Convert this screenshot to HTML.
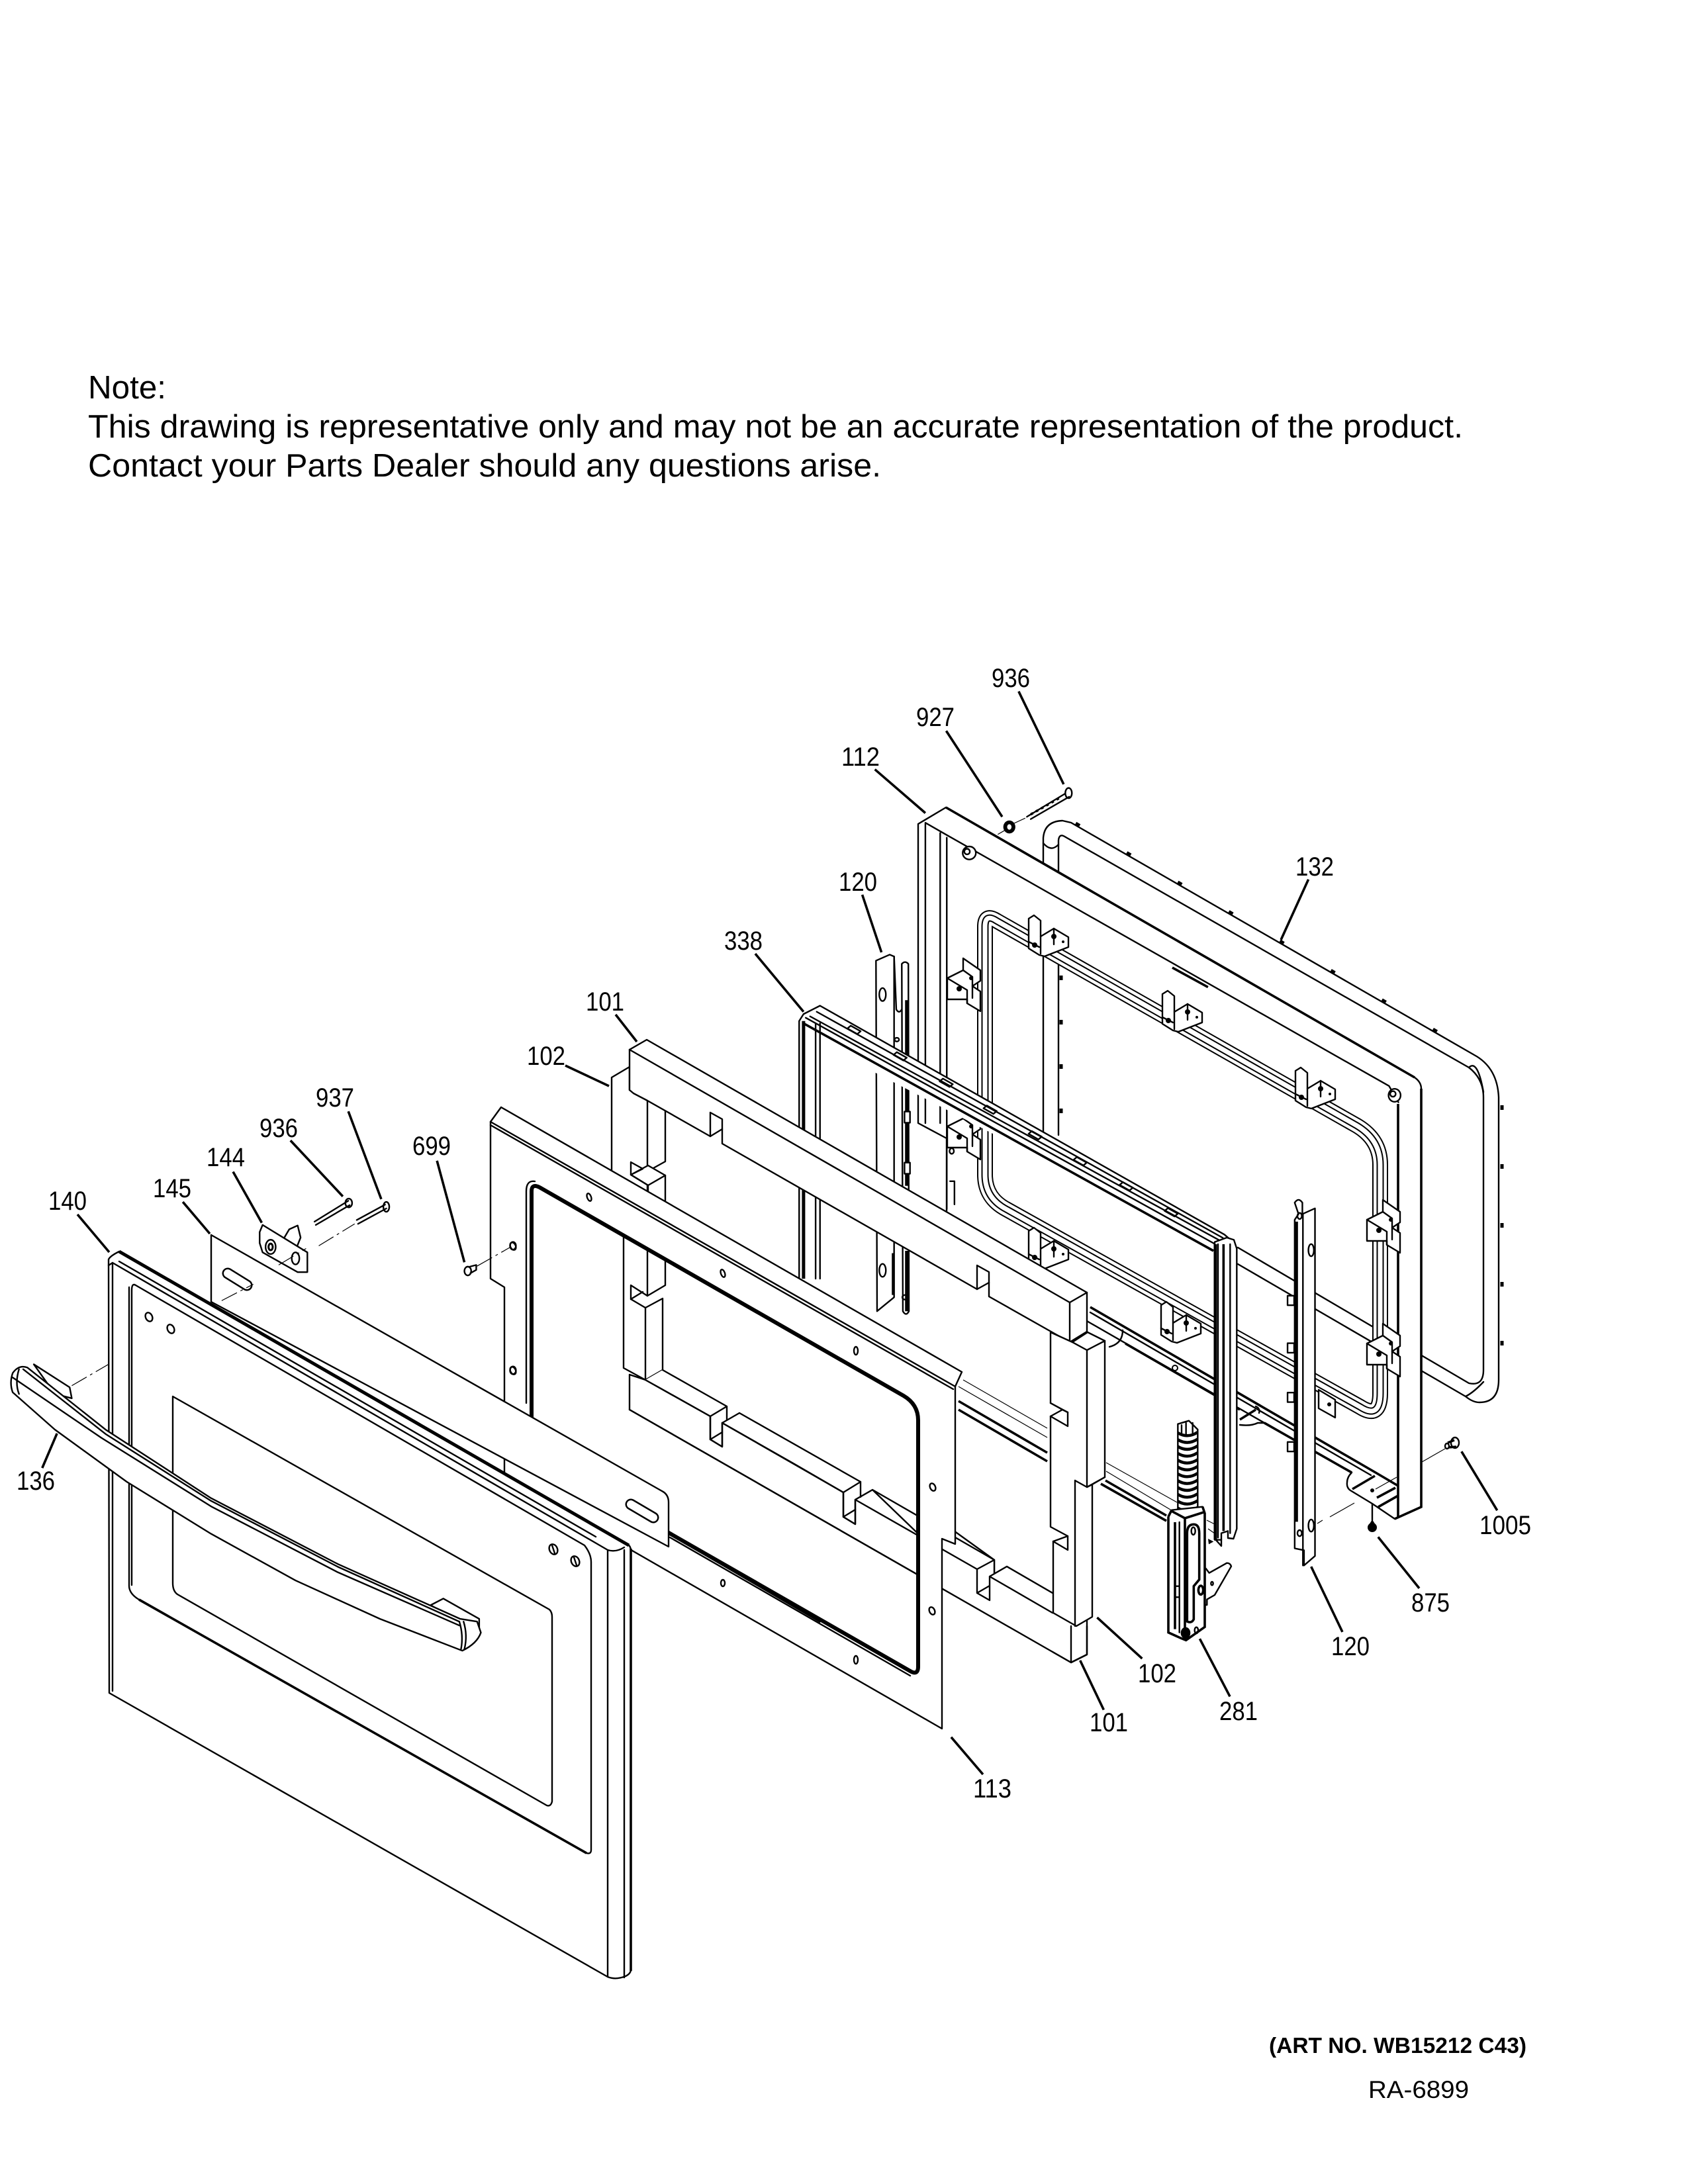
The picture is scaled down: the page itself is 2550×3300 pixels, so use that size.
<!DOCTYPE html>
<html><head><meta charset="utf-8">
<style>
html,body{margin:0;padding:0;background:#fff}
svg{display:block}
svg *{vector-effect:non-scaling-stroke}
.l{fill:none;stroke:#000;stroke-width:2.4;stroke-linejoin:round;stroke-linecap:round}
.w{fill:#fff;stroke:#000;stroke-width:2.4;stroke-linejoin:round}
.t{fill:none;stroke:#000;stroke-width:5;stroke-linecap:butt}
.f{fill:none;stroke:#000;stroke-width:1.2}
.d{fill:none;stroke:#000;stroke-width:1.2;stroke-dasharray:26 6 4 6}
.k{fill:none;stroke:#000;stroke-width:3.6;stroke-linecap:butt}
text{font-family:"Liberation Sans",sans-serif;fill:#000}
.n{font-size:40px;text-anchor:middle}
</style></head><body>
<svg xmlns="http://www.w3.org/2000/svg" width="2550" height="3300" viewBox="0 0 2550 3300">
<rect width="2550" height="3300" fill="#fff"/>
<defs>
<g id="b1"><path class="w" d="M0 5 L8 0 L18 8 L18 32 L38 20 L60 33 L60 48 L24 62 L16 60 L0 50 Z"/><path class="l" d="M18 32V58M38 20V44M0 40L16 48"/><circle cx="9" cy="45" r="4" fill="#000"/><circle cx="38" cy="32" r="4" fill="#000"/><circle cx="52" cy="40" r="2" fill="#000"/></g>
<g id="b2"><path class="w" d="M24 0L50 18V34L38 42L50 50V80L30 68V62L0 62V30L24 18Z"/><path class="l" d="M24 18L38 28V60M0 30L30 48V68"/><circle cx="18" cy="46" r="4" fill="#000"/><circle cx="36" cy="30" r="3" fill="#000"/></g>
</defs>

<!-- 132 gasket -->
<path class="l" d="M1576 1715L1576 1266Q1578 1241 1605 1240L1618 1243L2227 1594Q2262 1613 2264 1658L2264 2085Q2264 2119 2235 2119Q2225 2119 2214 2110L1870 1910"/>
<path class="l" d="M1599 1715L1599 1270Q1600 1258 1610 1265L2219 1613Q2241 1630 2241 1658L2241 2070Q2241 2095 2219 2090L1870 1885"/>
<path class="l" d="M1576 1274Q1588 1288 1599 1276M2219 1613Q2232 1600 2241 1650M2241 2088Q2226 2104 2214 2110"/>
<path fill="none" stroke="#000" stroke-width="5" stroke-dasharray="7 82" d="M1625 1244L2225 1590"/>
<path fill="none" stroke="#000" stroke-width="5" stroke-dasharray="7 82" d="M2269 1670V2080"/>
<path fill="none" stroke="#000" stroke-width="5" stroke-dasharray="7 60" d="M1603 1340V1715"/>

<!-- 112 frame -->
<path class="w" fill-rule="evenodd" d="M1387 1245L1429 1220L2137 1628Q2147 1635 2147 1645L2147 2277L2107 2295L2073 2272L2040 2252Q2034 2248 2035 2240Q2035 2232 2042 2225L1992 2197L1647 1999L1430 1870V1720L1387 1697Z M1488 1400Q1488 1380 1505 1391L2050 1701Q2085 1722 2085 1760L2085 2105Q2085 2145 2055 2126L1520 1827Q1488 1810 1488 1775Z"/>
<path class="k" d="M1429 1220L2137 1628M2147 1645V2277L2107 2295M2112 1668V2292"/>
<g transform="matrix(.829 0 0 .7015 1000 950)">
<path class="l" d="M480 418L520 445L1325 985L1342 1020M480 420V1065M507 440V1065M519 450V1250"/>
<path class="k" d="M930 730L995 772"/>
<ellipse class="w" cx="560" cy="483" rx="12" ry="14"/><ellipse class="l" cx="556" cy="480" rx="5" ry="6"/>
<ellipse class="w" cx="1335" cy="1005" rx="11" ry="14"/><ellipse class="l" cx="1332" cy="1002" rx="5" ry="6"/>
<ellipse class="l" cx="528" cy="1125" rx="4" ry="6"/><path class="l" d="M525 1190h8v50"/>
</g>
<path d="M1488 1400Q1488 1380 1505 1391L2050 1701Q2085 1722 2085 1760L2085 2105Q2085 2145 2055 2126L1520 1827Q1488 1810 1488 1775Z" fill="none" stroke="#000" stroke-width="24"/>
<path d="M1488 1400Q1488 1380 1505 1391L2050 1701Q2085 1722 2085 1760L2085 2105Q2085 2145 2055 2126L1520 1827Q1488 1810 1488 1775Z" fill="none" stroke="#fff" stroke-width="20"/>
<path d="M1488 1400Q1488 1380 1505 1391L2050 1701Q2085 1722 2085 1760L2085 2105Q2085 2145 2055 2126L1520 1827Q1488 1810 1488 1775Z" fill="none" stroke="#000" stroke-width="11"/>
<path d="M1488 1400Q1488 1380 1505 1391L2050 1701Q2085 1722 2085 1760L2085 2105Q2085 2145 2055 2126L1520 1827Q1488 1810 1488 1775Z" fill="none" stroke="#fff" stroke-width="7"/>
<use href="#b1" x="1554" y="1383"/><use href="#b1" x="1756" y="1497"/><use href="#b1" x="1957" y="1613"/>
<use href="#b1" x="1554" y="1855"/><use href="#b1" x="1754" y="1967"/>
<use href="#b2" x="2065" y="1813"/><use href="#b2" x="2065" y="2000"/>
<use href="#b2" x="1431" y="1448"/><use href="#b2" x="1431" y="1672"/>
<path class="w" d="M1992 2100L2017 2115V2142L1992 2128Z"/><circle cx="2008" cy="2122" r="3" fill="#000"/>
<!-- frame bottom lines + tab -->
<path class="k" d="M1647 1975L2078 2225L2112 2245"/>
<path class="l" d="M1647 1983L2071 2229"/>
<path class="k" d="M1700 2030L1873 2130M1910 2150L2042 2225"/>
<path class="k" d="M1873 2145L1897 2130" stroke-width="4"/>
<path class="l" d="M1676 2035Q1696 2030 1696 2010M1873 2153Q1890 2155 1900 2150L1910 2150M1897 2125Q1904 2128 1902 2135"/>
<path class="k" d="M2043 2250L2077 2230M2080 2263L2108 2248M2082 2277L2112 2260"/>
<circle cx="2073" cy="2252" r="3" fill="#000"/>
<circle cx="1775" cy="2067" r="4" fill="none" stroke="#000" stroke-width="2"/>

<!-- 120 left -->
<g transform="matrix(.829 0 0 .7015 1000 950)">
<path class="w" d="M390 715L415 702L423 706V1440L392 1470Z"/>
<path class="w" d="M437 722Q443 714 449 722L450 1470Q445 1482 439 1470Z"/>
<path class="l" d="M423 706L427 820Q432 830 437 820"/>
<path class="t" d="M446 800V1200M446 1340V1470"/>
<path class="k" d="M421 1345V1435"/>
<ellipse class="l" cx="402" cy="788" rx="6" ry="14"/><ellipse class="l" cx="402" cy="1382" rx="6" ry="14"/>
<circle class="l" cx="428" cy="885" r="4"/><rect class="w" x="442" y="1040" width="10" height="24"/><rect class="w" x="442" y="1150" width="10" height="24"/><circle class="l" cx="443" cy="1440" r="5"/>
</g>

<!-- 338 glass pack -->
<path fill="#fff" d="M1207 1543L1214 1532L1239 1519L1850 1866L1862 1876L1869 1890V1905L1215 1565L1207 1570Z"/>
<g transform="matrix(.829 0 0 .7015 1000 950)">
<path class="l" d="M250 1400V845L258 830L288 812L1025 1305L1040 1320"/>
<path class="l" d="M262 838L1015 1330M270 835L1020 1320M282 825L1022 1312M280 850V1400M288 850V1400"/>
<path class="t" d="M258 845V1400"/>
<path class="k" d="M258 850L1005 1340"/>
<path class="l" d="M344 855l18 12l-6 6l-18 -12zM428 912l18 12l-6 6l-18 -12zM512 969l18 12l-6 6l-18 -12zM592 1027l18 12l-6 6l-18 -12zM674 1082l18 12l-6 6l-18 -12zM756 1138l18 12l-6 6l-18 -12zM840 1192l18 12l-6 6l-18 -12zM922 1248l18 12l-6 6l-18 -12z"/>
</g>
<path class="f" d="M1455 2085L1582 2158M1448 2095L1582 2172M1671 2210L1778 2270M1671 2223L1778 2287M1823 2297L1835 2303M1825 2310L1835 2317"/>
<path class="k" d="M1448 2117L1582 2195M1448 2130L1582 2208M1670 2237L1762 2290M1663 2242L1762 2298"/>
<g transform="translate(1720 2100) scale(.33333)">
<path class="w" d="M345 -670L400 -690L432 -680L445 -640V630L430 675L405 672V640L375 650V708L350 680Z"/>
<path class="l" d="M360 -660V670M415 -660V650M345 680H375"/>
<path class="t" d="M348 -660V680" stroke-width="4"/>
<path class="k" d="M385 -660V640" stroke-width="3"/>
<path d="M315 675L340 688L318 700Z" fill="#000"/>
</g>

<!-- 120 right -->
<g transform="matrix(.829 0 0 .574 1000 1800)">
<path class="w" d="M1140 275h12v25h-12zM1140 400h12v25h-12zM1140 530h12v25h-12zM1140 660h12v25h-12z"/>
<path class="w" d="M1153 30Q1160 15 1167 30V60L1190 45V960L1170 985V945L1153 940V75L1160 60Z"/>
<path class="l" d="M1168 60V985"/>
<path class="t" d="M1156 80V870"/>
<ellipse class="l" cx="1183" cy="155" rx="5" ry="16"/><ellipse class="l" cx="1183" cy="880" rx="5" ry="16"/>
<ellipse class="l" cx="1162" cy="65" rx="4" ry="8"/><ellipse class="l" cx="1162" cy="900" rx="4" ry="8"/>
</g>

<!-- 281 hinge -->
<g transform="translate(1720 2100) scale(.33333)">
<path class="w" d="M178 155L228 140L268 180V540L178 540Z"/>
<path class="l" d="M195 160V205M215 150V205M245 150V195"/>
<path fill="none" stroke="#000" stroke-width="4.5" d="M178 195Q222 222 268 192M178 226Q222 253 268 223M178 257Q222 284 268 254M178 288Q222 315 268 285M178 319Q222 346 268 316M178 350Q222 377 268 347M178 381Q222 408 268 378M178 412Q222 439 268 409M178 443Q222 470 268 440M178 474Q222 501 268 471M178 505Q222 532 268 502M178 536Q222 563 268 533"/>
<path class="w" d="M305 810L320 830L400 785Q415 785 420 800L345 930L310 950V975L300 975V810Z"/>
<ellipse class="l" cx="333" cy="878" rx="5" ry="8"/>
<path class="w" d="M135 575L150 545L290 530L300 560V1075L215 1135L190 1125L135 1100Z"/>
<path class="k" d="M135 575V1100L190 1125L215 1135L300 1075V560L290 530M135 575L150 545"/>
<path class="k" d="M150 550L210 582L295 555M165 600V1085M210 582V1130"/>
<path class="l" d="M185 600V1100M165 890H185M165 940H185"/>
<path class="k" d="M220 650Q220 610 250 610Q275 610 275 650V860L250 890V1040Q240 1060 220 1050Z"/>
<ellipse class="l" cx="248" cy="640" rx="9" ry="17"/>
<ellipse cx="282" cy="908" rx="11" ry="20" fill="#fff" stroke="#000" stroke-width="3.6"/>
<ellipse cx="213" cy="1102" rx="22" ry="26" fill="#000"/>
<ellipse class="l" cx="262" cy="1090" rx="8" ry="14"/>
</g>

<!-- foam 101/102 -->
<path class="w" d="M924 1628L951 1612V1647L978 1663L1005 1678V1755L978 1770V1830L924 1830Z"/>
<path class="l" d="M978 1663V1770"/>
<path class="w" d="M953 1756L971 1766L953 1775L979 1761L1005 1776V1830H979L979 1791L953 1775Z"/>
<path class="l" d="M979 1791L1005 1776M953 1775L979 1791"/>
<path class="w" d="M951 1586L977 1571L1642 1953V2012L1616 2028L1494 1959V1922L1476 1912V1948L1091 1728V1691L1073 1681V1717L978 1663L957 1652L951 1647Z"/>
<path class="l" d="M951 1586L1616 1968V2028M1616 1968L1642 1953M1073 1717L1091 1706M1476 1948L1494 1938"/>
<!-- lower bars (covered by plate) -->
<path class="w" d="M942 1860L978 1880L1005 1895V1942L978 1958L953 1942V1963L975 1976L1001 1962V2070L975 2085L942 2067Z"/>
<path class="l" d="M975 1976V2085M978 1880V1958M953 1963L971 1952"/>
<path class="w" d="M951 2077V2130L1618 2512L1642 2500V2440L1590 2407L1521 2367L1495 2382V2418L1476 2407V2371L1423 2340V2300L1502 2357V2395L1400 2330L1318 2251L1292 2266V2303L1274 2292V2255L1200 2212L1091 2150V2186L1073 2175V2140L975 2085Z"/>
<path fill="#fff" d="M975 2085L1001 2070L1098 2125V2150L1091 2150L1117 2135L1274 2225L1300 2239V2285L1292 2266L1318 2251L1502 2357V2400L1495 2382L1521 2367L1590 2407V2500H1423V2300Z"/>
<path class="l" d="M1001 2070L1098 2125M975 2085L1073 2140L1098 2125V2145M1073 2175L1091 2164M1091 2150L1117 2135L1300 2239L1274 2255L1091 2150M1300 2239V2262M1274 2292L1292 2281"/>
<path class="l" d="M1073 2140V2175L1091 2186V2150M1274 2255V2292L1292 2303V2266L1318 2251L1502 2357L1476 2371L1292 2266M1502 2357V2378M1476 2371V2407L1495 2418V2382L1521 2367L1590 2407M1495 2382L1590 2437M1476 2407L1495 2396"/>
<path class="l" d="M951 2130L1618 2512L1642 2500V2457M1618 2512V2457"/>
<path class="w" d="M1587 2013L1620 2028L1642 2040L1669 2026V2232L1650 2243V2443L1626 2457L1591 2437V2329L1613 2342V2321L1587 2307V2140L1613 2155V2134L1587 2120Z"/>
<path class="l" d="M1642 2040V2247M1624 2237V2457M1620 2028L1643 2013L1669 2026M1624 2237L1642 2247L1669 2232M1587 2140L1605 2130M1587 2120L1605 2130L1613 2134M1591 2329L1613 2321"/>
<path class="l" d="M1642 2247L1650 2243"/>

<!-- 113 plate -->
<path class="w" fill-rule="evenodd" d="M741 1695L757 1673L1453 2073L1443 2095V2333L1423 2325V2612L762 2232V1945L741 1932Z M803 1800Q803 1788 815 1794L1365 2109Q1387 2122 1387 2146V2518Q1387 2532 1375 2525L820 2207Q803 2197 803 2180Z"/>
<path class="l" d="M741 1695L1443 2095M741 1700L1440 2099M795 2120V1800Q795 1783 808 1785"/>
<path fill="none" stroke="#000" stroke-width="6" stroke-linejoin="round" d="M803 1800Q803 1788 815 1794L1365 2109Q1387 2122 1387 2146V2518Q1387 2532 1375 2525L820 2207Q803 2197 803 2180Z"/>
<path class="l" d="M1012 2323L1375 2532"/>
<g class="l"><ellipse cx="890" cy="1809" rx="3" ry="6" transform="rotate(-20 890 1809)"/><ellipse cx="1092" cy="1924" rx="3" ry="6" transform="rotate(-20 1092 1924)"/><ellipse cx="775" cy="1883" rx="4" ry="6" transform="rotate(-25 775 1883)"/><ellipse cx="775" cy="2071" rx="4" ry="6" transform="rotate(-25 775 2071)"/><ellipse cx="1092" cy="2392" rx="3" ry="5"/><ellipse cx="1293" cy="2041" rx="3" ry="6"/><ellipse cx="1409" cy="2247" rx="4" ry="6" transform="rotate(-25 1409 2247)"/><ellipse cx="1408" cy="2434" rx="4" ry="6" transform="rotate(-25 1408 2434)"/><ellipse cx="1293" cy="2508" rx="3" ry="6"/></g>

<!-- 145 plate -->
<path class="w" d="M319 1866L1000 2253Q1010 2258 1010 2270V2337L319 1967Z"/>
<path d="M344 1924L373 1942M953 2273L987 2293" stroke="#000" stroke-width="17" stroke-linecap="round"/>
<path d="M344 1924L373 1942M953 2273L987 2293" stroke="#fff" stroke-width="12" stroke-linecap="round"/>
<path class="t" d="M1012 2317L1240 2450" stroke-width="6"/>

<!-- 144 + hardware (zoom 1 space) -->
<g transform="matrix(.6378 0 0 .829 0 1700)">
<path class="l" d="M745 176L825 138M748 182L828 146"/><ellipse class="l" cx="826" cy="142" rx="8" ry="8"/>
<path class="l" d="M845 173L912 145M848 180L915 152"/><ellipse class="l" cx="915" cy="149" rx="7" ry="9" stroke-width="3"/>
<path class="w" d="M672 207L685 190L705 183L712 205L700 228Z"/>
<path class="w" d="M622 182L728 232V268L705 268L622 232L615 215V195Z"/>
<ellipse class="l" cx="641" cy="222" rx="12" ry="13" /><ellipse cx="641" cy="222" rx="5" ry="6" fill="none" stroke="#000" stroke-width="3"/>
<ellipse class="l" cx="700" cy="243" rx="9" ry="11"/>
<path class="d" d="M755 220L840 180M525 320L600 290M660 255L725 225M170 475L400 372"/>
<path class="d" d="M1130 257L1210 222"/>
<ellipse class="l" cx="1108" cy="266" rx="8" ry="8"/><path class="l" d="M1113 258L1128 255V264L1114 270"/>
<ellipse class="l" cx="1215" cy="220" rx="7" ry="7"/><ellipse class="l" cx="1215" cy="447" rx="7" ry="7"/>
</g>

<!-- 140 door -->
<path class="w" d="M164 1903Q166 1898 180 1891L950 2335Q953 2337 953 2345V2976Q953 2982 945 2986Q930 2992 918 2987L165 2558Z"/>
<path class="t" d="M180 1891L950 2335" stroke-width="4"/>
<path class="k" d="M953 2340V2978"/>
<path class="l" d="M170 1910V2555M918 2342V2987M943 2342V2988M170 1908L918 2342M164 1912L170 1908M180 1906L900 2322M918 2342Q930 2346 943 2338"/>
<path class="l" d="M195 1945V2396Q195 2408 210 2417L886 2800Q893 2802 893 2795V2360Q893 2348 883 2335L205 1942Q199 1938 199 1950V2395"/>
<path class="k" d="M210 2417L886 2800"/>
<path class="l" d="M261 2110L830 2432Q834 2436 834 2443V2722Q832 2730 826 2728L268 2409Q261 2404 261 2392Z"/>
<g class="l"><ellipse cx="225" cy="1990" rx="5" ry="7" transform="rotate(-25 225 1990)"/><ellipse cx="258" cy="2008" rx="5" ry="7" transform="rotate(-25 258 2008)"/><ellipse cx="836" cy="2341" rx="6" ry="8" transform="rotate(-25 836 2341)"/><ellipse cx="869" cy="2359" rx="6" ry="8" transform="rotate(-25 869 2359)"/><path d="M834 2335L838 2347M867 2353L871 2365"/></g>

<!-- 136 handle (zoom 1 space) -->
<g transform="matrix(.6378 0 0 .829 0 1700)">
<path class="w" d="M80 436L165 478L170 498L130 490Z"/>
<path class="w" d="M1020 875L1050 863L1135 900V920L1090 905Z"/>
<path class="w" d="M30 452Q45 436 65 442L250 555L500 680L800 800L1090 900L1130 905L1139 925Q1130 945 1095 958L900 900L700 830L500 745L300 650L130 555L30 487Q22 470 30 452Z"/>
<path class="l" d="M30 460L240 570L500 695L800 815L1088 912M45 445Q35 470 45 490"/>
<path class="l" d="M55 445L250 563L500 685L800 805L1088 905"/>
<path class="l" d="M1088 905Q1098 930 1092 955M1098 905Q1108 930 1100 955"/>
</g>

<!-- hardware right -->
<g transform="matrix(.829 0 0 .7015 1000 950)">
<ellipse cx="633" cy="427" rx="11" ry="14" fill="#000"/><ellipse cx="633" cy="427" rx="4" ry="6" fill="#fff"/>
<path class="d" d="M612 443L628 432"/>
<path class="l" d="M665 405L735 355M672 410L742 362"/>
<ellipse class="l" cx="741" cy="354" rx="6" ry="11"/>
<path class="k" stroke-dasharray="4 5" d="M672 400L728 362"/>
<path class="d" d="M640 420L662 408"/>
</g>
<path class="f" d="M2148 2209L2183 2189M2009 2292L2046 2271M1990 2302L1998 2297M2078 2250L2110 2232"/>
<path class="l" d="M2073 2273V2297"/>
<ellipse cx="2073" cy="2308" rx="7" ry="7" fill="#000"/><path d="M2073 2296L2068 2304H2078Z" fill="#000"/>
<path class="k" d="M2187 2180L2197 2176M2188 2187L2200 2186"/><ellipse class="l" cx="2198" cy="2180" rx="6" ry="8" stroke-width="3.5"/>
<ellipse class="l" cx="2186" cy="2185" rx="3" ry="4"/>

<!-- leaders -->
<g transform="matrix(.6378 0 0 .829 0 1700)" class="k">
<path d="M433 140L497 198M552 85L620 178M688 28L812 130M825 -25L903 135M1035 65L1100 250M135 562L100 625"/>
</g>
<path class="k" d="M117 1835L165 1892M930 1533L962 1574M854 1610L920 1641"/>
<g transform="matrix(.829 0 0 .7015 1000 950)" class="k">
<path d="M650 135L732 335M518 220L620 405M388 303L480 397M365 573L400 697M170 700L258 825M1178 540L1128 670"/>
</g>
<g transform="matrix(.829 0 0 .574 1000 1800)" class="k">
<path d="M793 1122L875 1230M762 1235L805 1365M980 1178L1035 1330M1183 988L1240 1160M1305 910L1380 1045M1457 685L1522 840M527 1437L585 1535"/>
</g>

<!-- labels -->
<g class="n">
<text x="1527" y="1038" textLength="58" lengthAdjust="spacingAndGlyphs" class="n">936</text>
<text x="1413" y="1097" textLength="58" lengthAdjust="spacingAndGlyphs" class="n">927</text>
<text x="1300" y="1157" textLength="58" lengthAdjust="spacingAndGlyphs" class="n">112</text>
<text x="1296" y="1346" textLength="58" lengthAdjust="spacingAndGlyphs" class="n">120</text>
<text x="1123" y="1435" textLength="58" lengthAdjust="spacingAndGlyphs" class="n">338</text>
<text x="1986" y="1323" textLength="58" lengthAdjust="spacingAndGlyphs" class="n">132</text>
<text x="914" y="1527" textLength="58" lengthAdjust="spacingAndGlyphs" class="n">101</text>
<text x="825" y="1609" textLength="58" lengthAdjust="spacingAndGlyphs" class="n">102</text>
<text x="506" y="1672" textLength="58" lengthAdjust="spacingAndGlyphs" class="n">937</text>
<text x="421" y="1718" textLength="58" lengthAdjust="spacingAndGlyphs" class="n">936</text>
<text x="652" y="1745" textLength="58" lengthAdjust="spacingAndGlyphs" class="n">699</text>
<text x="341" y="1762" textLength="58" lengthAdjust="spacingAndGlyphs" class="n">144</text>
<text x="260" y="1809" textLength="58" lengthAdjust="spacingAndGlyphs" class="n">145</text>
<text x="102" y="1828" textLength="58" lengthAdjust="spacingAndGlyphs" class="n">140</text>
<text x="54" y="2251" textLength="58" lengthAdjust="spacingAndGlyphs" class="n">136</text>
<text x="1499" y="2716" textLength="58" lengthAdjust="spacingAndGlyphs" class="n">113</text>
<text x="1675" y="2616" textLength="58" lengthAdjust="spacingAndGlyphs" class="n">101</text>
<text x="1748" y="2542" textLength="58" lengthAdjust="spacingAndGlyphs" class="n">102</text>
<text x="1871" y="2599" textLength="58" lengthAdjust="spacingAndGlyphs" class="n">281</text>
<text x="2040" y="2501" textLength="58" lengthAdjust="spacingAndGlyphs" class="n">120</text>
<text x="2161" y="2435" textLength="58" lengthAdjust="spacingAndGlyphs" class="n">875</text>
<text x="2274" y="2318" textLength="78" lengthAdjust="spacingAndGlyphs" class="n">1005</text>
</g>
<text x="133" y="602" font-size="49" textLength="118" lengthAdjust="spacingAndGlyphs">Note:</text>
<text x="133" y="661" font-size="49" textLength="2077" lengthAdjust="spacingAndGlyphs">This drawing is representative only and may not be an accurate representation of the product.</text>
<text x="133" y="720" font-size="49" textLength="1198" lengthAdjust="spacingAndGlyphs">Contact your Parts Dealer should any questions arise.</text>
<text x="1917" y="3102" font-size="33" font-weight="bold" textLength="389" lengthAdjust="spacingAndGlyphs">(ART NO. WB15212 C43)</text>
<text x="2067" y="3170" font-size="37" textLength="152" lengthAdjust="spacingAndGlyphs">RA-6899</text>
</svg>
</body></html>
